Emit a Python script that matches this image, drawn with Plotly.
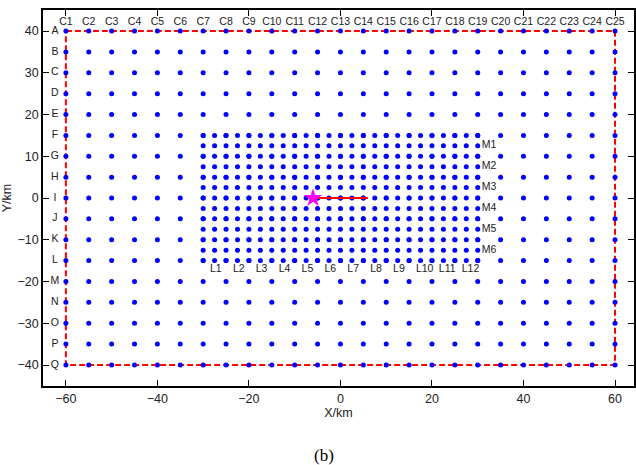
import plotly.graph_objects as go

# ---------------- data ----------------
coarse_x = [-60, -55, -50, -45, -40, -35, -30, -25, -20, -15, -10, -5, 0,
            5, 10, 15, 20, 25, 30, 35, 40, 45, 50, 55, 60]
coarse_y = [40, 35, 30, 25, 20, 15, 10, 5, 0, -5, -10, -15, -20, -25, -30, -35, -40]
dense_x = [-30, -27.5, -25, -22.5, -20, -17.5, -15, -12.5, -10, -7.5, -5, -2.5, 0,
           2.5, 5, 7.5, 10, 12.5, 15, 17.5, 20, 22.5, 25, 27.5, 30]
dense_y = [15, 12.5, 10, 7.5, 5, 2.5, 0, -2.5, -5, -7.5, -10, -12.5, -15]

col_labels = ["C%d" % i for i in range(1, 26)]
row_labels = ["A", "B", "C", "D", "E", "F", "G", "H", "I", "J", "K", "L", "M",
              "N", "O", "P", "Q"]
l_labels = ["L%d" % i for i in range(1, 13)]
l_label_x = [-28.5, -23.5, -18.5, -13.5, -8.5, -3.5, 1.5, 6.5, 11.5, 16.5, 21.5, 26.5]
l_label_y = -17.2
m_labels = ["M1", "M2", "M3", "M4", "M5", "M6"]
m_label_y = [12.5, 7.5, 2.5, -2.5, -7.5, -12.5]
m_label_x = 30.9

boundary_x = [-60, 60]
boundary_y = [-40, 40]
fault_x = [-6, 6]
fault_y = [0, 0]
epicenter = (-6, 0)

x_ticks = [-60, -40, -20, 0, 20, 40, 60]
y_ticks = [-40, -30, -20, -10, 0, 10, 20, 30, 40]

# ---------------- figure ----------------
FONT = "Liberation Sans, Arial, sans-serif"
TXT = "#222222"
fig = go.Figure()

# boundary rectangle
bx = [boundary_x[0], boundary_x[1], boundary_x[1], boundary_x[0], boundary_x[0]]
by = [boundary_y[1], boundary_y[1], boundary_y[0], boundary_y[0], boundary_y[1]]
fig.add_trace(go.Scatter(x=bx, y=by, mode="lines",
                         line=dict(color="#FF0000", width=2, dash="6px,3px"),
                         hoverinfo="skip"))

# coarse grid
cx = [x for y in coarse_y for x in coarse_x]
cy = [y for y in coarse_y for x in coarse_x]
fig.add_trace(go.Scatter(x=cx, y=cy, mode="markers",
                         marker=dict(color="#0000FF", size=5, line=dict(width=0))))

# dense grid
dx = [x for y in dense_y for x in dense_x]
dy = [y for y in dense_y for x in dense_x]
fig.add_trace(go.Scatter(x=dx, y=dy, mode="markers",
                         marker=dict(color="#0000FF", size=5, line=dict(width=0))))

# fault line and epicenter
fig.add_trace(go.Scatter(x=fault_x, y=fault_y, mode="lines",
                         line=dict(color="#FF0000", width=2)))
fig.add_trace(go.Scatter(x=[epicenter[0]], y=[epicenter[1]], mode="markers",
                         marker=dict(symbol="star", color="#FF00FF", size=14,
                                     line=dict(width=0))))

# column labels
fig.add_trace(go.Scatter(x=coarse_x, y=[42.0] * len(coarse_x), mode="text",
                         text=col_labels, textposition="middle center",
                         textfont=dict(family=FONT, size=10.5, color=TXT),
                         cliponaxis=False))
# row labels
fig.add_trace(go.Scatter(x=[-62.4] * len(coarse_y), y=coarse_y, mode="text",
                         text=row_labels, textposition="middle center",
                         textfont=dict(family=FONT, size=10.5, color=TXT),
                         cliponaxis=False))
# L labels
fig.add_trace(go.Scatter(x=l_label_x, y=[l_label_y] * len(l_labels), mode="text",
                         text=l_labels, textposition="middle right",
                         textfont=dict(family=FONT, size=10.5, color=TXT)))
# M labels
fig.add_trace(go.Scatter(x=[m_label_x] * len(m_labels), y=m_label_y, mode="text",
                         text=m_labels, textposition="middle right",
                         textfont=dict(family=FONT, size=10.5, color=TXT)))

axis_common = dict(showgrid=False, zeroline=False, showline=True,
                   linecolor="black", linewidth=1.5, mirror="ticks",
                   ticks="inside", ticklen=6, tickwidth=1, tickcolor="black",
                   tickfont=dict(family=FONT, size=12.5, color=TXT))

fig.update_xaxes(range=[-65.0, 64.15], tickvals=x_ticks,
                 title=dict(text="X/km", font=dict(family=FONT, size=12.5, color=TXT),
                            standoff=2),
                 **axis_common)
fig.update_yaxes(range=[-45.03, 45.03], tickvals=y_ticks,
                 title=dict(text="Y/km", font=dict(family=FONT, size=12.5, color=TXT),
                            standoff=4),
                 **axis_common)

fig.add_annotation(text="(b)", xref="paper", yref="paper", x=(325 - 43) / 593,
                   y=-(455 - 386) / 376, xanchor="center", yanchor="middle",
                   showarrow=False,
                   font=dict(family="Liberation Serif, Times New Roman, serif",
                             size=17, color="black"))

fig.update_layout(width=636, height=465, showlegend=False,
                  margin=dict(l=43, r=0, t=10, b=79),
                  plot_bgcolor="white", paper_bgcolor="white")

fig.write_html("out.html", config={"displayModeBar": False},
               post_script="document.body.style.margin='0';")
